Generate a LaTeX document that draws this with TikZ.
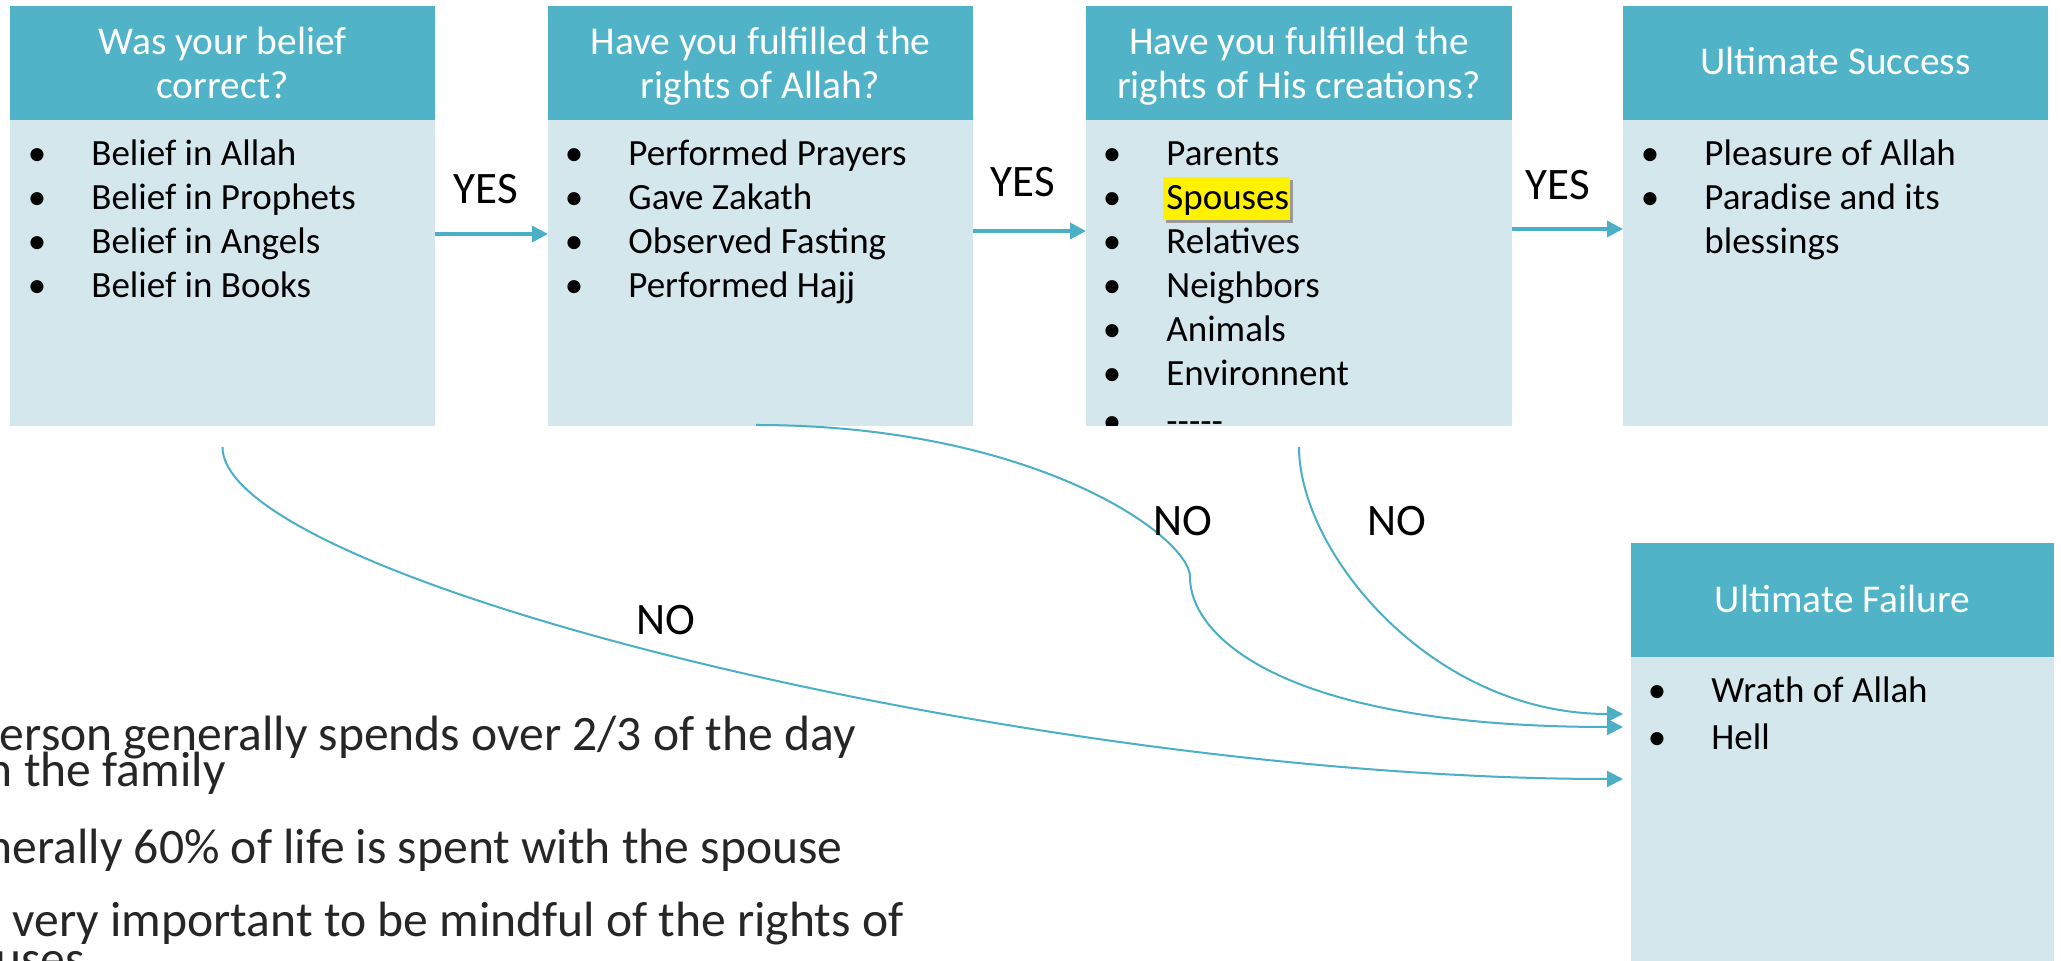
\documentclass[tikz,border=0pt]{standalone}
\usepackage{fontspec}
\setmainfont{Carlito}
\usetikzlibrary{arrows.meta}
\definecolor{hdr}{HTML}{50B3C8}
\definecolor{bod}{HTML}{D4E7ED}
\definecolor{arr}{HTML}{4BAFC6}
\definecolor{bottxt}{HTML}{262626}
\definecolor{hlshadow}{HTML}{9A9A9A}
\tikzset{
  boxbody/.style={fill=bod, draw=none, inner sep=0pt, outer sep=0pt, anchor=north west, rectangle},
  boxhead/.style={fill=hdr, draw=none, inner sep=0pt, outer sep=0pt, anchor=north west, rectangle, minimum height=57pt},
  hdrtxt/.style={anchor=base, inner sep=0pt, text=white, font=\fontsize{19.7}{23}\selectfont},
  bul/.style={anchor=base, inner sep=0pt, font=\fontsize{18.5}{22}\selectfont},
  itm/.style={anchor=base west, inner sep=0pt, font=\fontsize{18.5}{22}\selectfont},
  lbl/.style={inner sep=0pt, font=\fontsize{22.5}{27}\selectfont},
  bottom/.style={anchor=base east, inner sep=0pt, text=bottxt, font=\fontsize{24.8}{29}\selectfont},
  yesarrow/.style={draw=arr, line width=1.7pt, -{Triangle[length=8pt,width=8pt]}},
  noarrow/.style={draw=arr, line width=1pt, -{Triangle[length=8pt,width=8pt]}, shorten >=4pt},
}
\newcommand{\qbox}[5]{%
  \node[boxbody, minimum width=#4*0.5pt, minimum height=#5*0.5pt] (#1) at (#2,#3) {};
  \node[boxhead, minimum width=#4*0.5pt] (#1h) at (#2,#3) {};}
\newcommand{\bitem}[4]{%
  \node[bul] (#1b) at (#2,#3) {\textbullet};
  \node[itm] (#1) at (#2+54,#3) {#4};}
\begin{document}
\begin{tikzpicture}[x=0.5pt,y=-0.5pt]
\useasboundingbox (0,0) rectangle (2061,961);
\fill[white] (0,0) rectangle (2061,961);

% boxes
\qbox{b1}{10}{6}{425}{420}
\qbox{b2}{548}{6}{425}{420}
\qbox{b3}{1086}{6}{426}{420}
\qbox{b4}{1623}{6}{425}{420}
\qbox{fail}{1631}{543}{423}{432}

% headers
\node[hdrtxt] (h1a) at (222.5,55) {Was your belief};
\node[hdrtxt] (h1b) at (222.5,99) {correct?};
\node[hdrtxt] (h2a) at (760.5,55) {Have you fulfilled the};
\node[hdrtxt] (h2b) at (760.5,99) {rights of Allah?};
\node[hdrtxt] (h3a) at (1299,55) {Have you fulfilled the};
\node[hdrtxt] (h3b) at (1299,99) {rights of His creations?};
\node[hdrtxt] (h4a) at (1835.5,75) {Ultimate Success};
\node[hdrtxt] (h5a) at (1842.5,613) {Ultimate Failure};

% box 1 items
\bitem{i11}{37}{166}{Belief in Allah}
\bitem{i12}{37}{210}{Belief in Prophets}
\bitem{i13}{37}{254}{Belief in Angels}
\bitem{i14}{37}{298}{Belief in Books}

% box 2 items
\bitem{i21}{574}{166}{Performed Prayers}
\bitem{i22}{574}{210}{Gave Zakath}
\bitem{i23}{574}{254}{Observed Fasting}
\bitem{i24}{574}{298}{Performed Hajj}

% box 3 items
\fill[hlshadow] (1166,180) rectangle (1293,223);
\fill[yellow] (1163,177) rectangle (1290,220);
\begin{scope}
\clip (1086,6) rectangle (1512,426);
\bitem{i31}{1112}{166}{Parents}
\bitem{i32}{1112}{210}{Spouses}
\bitem{i33}{1112}{254}{Relatives}
\bitem{i34}{1112}{298}{Neighbors}
\bitem{i35}{1112}{342}{Animals}
\bitem{i36}{1112}{386}{Environnent}
\bitem{i37}{1112}{434}{-{}-{}-{}-{}-}
\end{scope}

% box 4 items
\bitem{i41}{1650}{166}{Pleasure of Allah}
\bitem{i42}{1650}{210}{Paradise and its}
\node[itm] (i43) at (1704,254) {blessings};

% failure items
\bitem{i51}{1657}{703}{Wrath of Allah}
\bitem{i52}{1657}{749}{Hell}

% YES arrows
\draw[yesarrow] ([yshift=-9pt]b1.east) -- ([yshift=-9pt]b2.west);
\draw[yesarrow] ([yshift=-7.5pt]b2.east) -- ([yshift=-7.5pt]b3.west);
\draw[yesarrow] ([yshift=-6.5pt]b3.east) -- ([yshift=-6.5pt]b4.west);
\node[lbl, anchor=base] (y1) at (486,204) {YES};
\node[lbl, anchor=base] (y2) at (1023,197) {YES};
\node[lbl, anchor=base] (y3) at (1558,200) {YES};

% NO curves
\coordinate (k2) at (1190,577);
\draw[noarrow] ([yshift=-10.5pt]b1.south) .. controls +(0,133) and +(-600,0) .. ([yshift=-10pt]fail.west);
\draw[noarrow] ([xshift=-2.25pt,yshift=0.5pt]b2.south) .. controls +(280,0) and +(0,-40) .. (k2)
   .. controls +(0,59) and +(-350,0) .. ([yshift=16pt]fail.west);
\draw[noarrow] ([yshift=-10.5pt]b3.south) .. controls +(0,105) and +(-200,0) .. ([yshift=22.5pt]fail.west);
\node[lbl] (n1) at (666,620) {NO};
\node[lbl] (n2) at (1183,521) {NO};
\node[lbl] (n3) at (1397,521) {NO};

% bottom text
\node[bottom] (t1) at (856,750) {erson generally spends over 2/3 of the day};
\node[bottom] (t2) at (226,786) {n the family};
\node[bottom] (t3) at (843,863) {nerally 60\% of life is spent with the spouse};
\node[bottom] (t4) at (904,936) {very important to be mindful of the rights of};
\node[bottom] (t5) at (85,975) {uses};
\end{tikzpicture}
\end{document}
